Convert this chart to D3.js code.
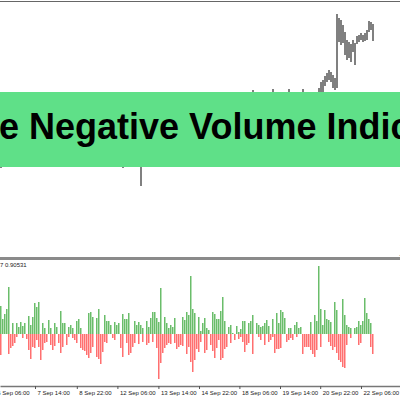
<!DOCTYPE html>
<html><head><meta charset="utf-8">
<script src="https://cdn.jsdelivr.net/npm/d3@7"></script>
<style>html,body{margin:0;padding:0;background:#fff;overflow:hidden}</style>
</head><body><svg id="c" width="400" height="400"></svg>
<script>
// ---- data ----
const volUp=[28,15,20,25,47,0,11,0,11,7,12,8,11,0,18,9,17,31,27,32,0,11,6,0,14,6,0,11,7,0,23,11,11,0,7,9,6,0,13,15,6,0,0,0,21,22,17,0,16,25,
0,0,19,13,13,9,0,12,9,11,0,20,15,15,21,0,0,13,9,12,9,6,0,13,7,16,22,22,16,12,46,0,17,11,6,9,7,16,0,0,0,17,14,22,19,58,25,21,0,17,
3,11,16,6,4,0,22,20,15,15,23,37,13,0,7,9,1,0,8,2,5,13,13,0,11,13,19,0,11,9,7,8,11,14,8,0,15,0,21,11,24,22,16,0,6,6,0,9,12,6,
7,0,0,0,0,12,0,19,13,68,25,9,24,15,14,12,0,32,24,0,0,35,19,9,7,6,0,6,7,13,9,13,36,21,15,11,0];
const volDown=[21,0,0,0,20,14,12,9,3,0,0,4,0,5,16,25,13,14,6,13,26,16,9,8,0,11,16,12,0,9,19,13,0,11,3,0,4,6,9,0,14,16,17,21,24,19,13,0,23,25,
30,18,8,9,0,0,4,6,0,0,14,23,0,9,21,19,13,9,0,10,0,8,0,11,9,0,8,0,14,45,29,19,14,11,9,10,0,9,15,13,11,12,0,20,13,28,38,26,15,18,
8,0,19,16,0,11,17,24,14,6,26,24,15,13,0,9,0,6,0,5,3,8,18,11,9,0,20,0,0,3,6,0,11,0,8,6,3,19,15,15,14,0,0,8,6,4,6,0,3,0,
0,20,13,13,13,16,20,23,16,0,13,0,0,0,8,12,16,13,19,26,28,33,34,11,0,4,0,0,0,11,9,0,0,0,0,13,20];
const priceHigh=[1.1960,1.1955,1.1958,1.1950,1.1945,1.1952,1.1948,1.1955,1.1962,1.1958,
1.1965,1.1970,1.1968,1.1975,1.1972,1.1978,1.1985,1.1980,1.1976,1.1982,
1.1988,1.1984,1.1979,1.1974,1.1977,1.1983,1.1986,1.1981,1.1975,1.1970,
1.1966,1.1972,1.1978,1.1974,1.1969,1.1963,1.1958,1.1962,1.1967,1.1971,
1.1975,1.1980,1.1984,1.1979,1.1973,1.1968,1.1964,1.1960,1.1957,1.1962,
1.1966,1.1961,1.1956,1.1952,1.1949,1.1953,1.1958,1.1963,1.1960,1.1955,
1.1950,1.1946,1.1951,1.1956,1.1960,1.1957,1.1952,1.1948,1.1953,1.1958,
1.1955,1.1948,1.1953,1.1959,1.1964,1.1969,1.1973,1.1970,1.1966,1.1972,
1.1977,1.1982,1.1979,1.1974,1.1970,1.1975,1.1980,1.1985,1.1988,1.1984,
1.1980,1.1976,1.1972,1.1977,1.1981,1.1986,1.1990,1.1987,1.1983,1.1979,
1.1975,1.1979,1.1984,1.1988,1.1992,1.1989,1.1985,1.1981,1.1986,1.1990,
1.1994,1.1991,1.1987,1.1983,1.1988,1.1992,1.1995,1.1993,1.1989,1.1985,
1.1981,1.1986,1.1990,1.1994,1.1997,1.1995,1.2010,1.1996,1.1992,1.1988,
1.1984,1.1989,1.1993,1.1996,1.1998,1.1995,1.2011,1.1997,1.1993,1.1989,
1.1986,1.1990,1.1994,1.1997,1.2011,1.1996,1.1992,1.1988,1.1984,1.1988,
1.1993,1.2011,1.1995,1.1991,1.1987,1.1990,1.2008,1.2005,1.2007,
1.2012,1.2018,1.2020,1.2024,1.2027,1.2030,1.2028,1.2025,1.2022,1.2086,1.2082,1.2080,1.2075,1.2068,1.2060,1.2058,1.2056,1.2060,1.2057,1.2064,1.2065,1.2067,1.2065,1.2067,1.2070,1.2079,1.2078,1.2076];
const priceLow=[1.1932,1.1940,1.1942,1.1936,1.1934,1.1938,1.1936,1.1942,1.1946,1.1944,
1.1950,1.1954,1.1952,1.1958,1.1960,1.1962,1.1966,1.1964,1.1960,1.1966,
1.1972,1.1968,1.1962,1.1960,1.1963,1.1968,1.1970,1.1966,1.1960,1.1956,
1.1950,1.1956,1.1962,1.1958,1.1952,1.1947,1.1944,1.1948,1.1952,1.1957,
1.1960,1.1964,1.1968,1.1962,1.1958,1.1952,1.1948,1.1944,1.1942,1.1946,
1.1950,1.1946,1.1940,1.1937,1.1935,1.1939,1.1943,1.1947,1.1944,1.1940,
1.1936,1.1932,1.1937,1.1941,1.1944,1.1941,1.1937,1.1934,1.1938,1.1942,
1.1914,1.1936,1.1940,1.1945,1.1950,1.1954,1.1958,1.1955,1.1951,1.1956,
1.1961,1.1966,1.1963,1.1959,1.1955,1.1960,1.1965,1.1969,1.1972,1.1968,
1.1964,1.1960,1.1957,1.1961,1.1966,1.1970,1.1974,1.1971,1.1967,1.1963,
1.1960,1.1964,1.1968,1.1972,1.1976,1.1973,1.1969,1.1965,1.1970,1.1974,
1.1978,1.1975,1.1971,1.1967,1.1972,1.1976,1.1979,1.1977,1.1973,1.1969,
1.1966,1.1970,1.1974,1.1978,1.1981,1.1979,1.1984,1.1980,1.1976,1.1972,
1.1969,1.1973,1.1977,1.1980,1.1982,1.1979,1.1985,1.1981,1.1977,1.1973,
1.1970,1.1974,1.1978,1.1981,1.1984,1.1980,1.1976,1.1972,1.1968,1.1972,
1.1977,1.1984,1.1979,1.1975,1.1971,1.1974,1.1985,1.1984,1.1986,
1.2000,1.2005,1.2008,1.2014,1.2018,1.2020,1.2018,1.2012,1.2010,1.2012,1.2058,1.2055,1.2057,1.2045,1.2040,1.2042,1.2038,1.2048,1.2035,1.2056,1.2058,1.2060,1.2058,1.2059,1.2060,1.2068,1.2070,1.2059];
const tickBars=[-2.6,17.5,38.4,58.7,79.2,99.5,119.7,140,160.1,180.5];
const tickLabels=["6 Sep 06:00","7 Sep 14:00","8 Sep 22:00","12 Sep 06:00","13 Sep 14:00","14 Sep 22:00","18 Sep 06:00","19 Sep 14:00","20 Sep 22:00","22 Sep 06:00"];
const titleText="e Negative Volume Indic";
const indicatorLabel="7 0.90531";
const watermarkText="ودآموز";

// ---- drawing ----
const svg=d3.select("#c");
const x=d3.scaleLinear().domain([0,200]).range([0,400]);
const yP=d3.scaleLinear().domain([1.1850,1.2100]).range([250,0]);
const yV=d3.scaleLinear().domain([-48,70]).range([382,264]);
const idx=d3.range(volUp.length);

// top border
svg.append("line").attr("x1",0).attr("x2",400).attr("y1",1.5).attr("y2",1.5).attr("stroke","#666").attr("stroke-width",1);

// price bars
svg.append("g").selectAll("line").data(idx).join("line")
  .attr("x1",i=>x(i)+1).attr("x2",i=>x(i)+1)
  .attr("y1",i=>yP(priceHigh[i])).attr("y2",i=>yP(priceLow[i]))
  .attr("stroke","#7a7a7a").attr("stroke-width",1.9);

// banner
svg.append("rect").attr("x",0).attr("y",92).attr("width",400).attr("height",75).attr("fill","#5fe088");
svg.append("text").attr("x",-1).attr("y",139).text(titleText)
  .attr("font-family","'Liberation Sans',Arial,sans-serif").attr("font-weight","bold")
  .attr("font-size",36).attr("fill","#000");

// watermark
svg.append("text").attr("x",400).attr("y",253).attr("text-anchor","end").attr("direction","rtl")
  .text(watermarkText).attr("font-family","'DejaVu Sans',sans-serif").attr("font-size",11).attr("fill","#a8a8a8");

// separator
svg.append("rect").attr("x",0).attr("y",257).attr("width",400).attr("height",3).attr("fill","#8a8a8a");

// indicator label
svg.append("text").attr("x",0).attr("y",267).text(indicatorLabel)
  .attr("font-family","'Liberation Sans',Arial,sans-serif").attr("font-size",6).attr("fill","#222");

// volume bars
svg.append("g").selectAll("rect").data(idx.filter(i=>volUp[i]>0)).join("rect")
  .attr("x",i=>x(i)).attr("width",1.5)
  .attr("y",i=>yV(volUp[i])).attr("height",i=>yV(0)-yV(volUp[i]))
  .attr("fill","#6abd6a");
svg.append("g").selectAll("rect").data(idx.filter(i=>volDown[i]>0)).join("rect")
  .attr("x",i=>x(i)).attr("width",1.5)
  .attr("y",yV(0)).attr("height",i=>yV(-volDown[i])-yV(0))
  .attr("fill","#ff6f6f");

// time axis
const ax=d3.axisBottom(x).tickValues(tickBars).tickFormat((d,k)=>tickLabels[k]).tickSize(3).tickSizeOuter(0);
const g=svg.append("g").attr("transform","translate(0,386)").call(ax);
g.select(".domain").attr("stroke","#777").attr("stroke-width",1.3);
g.selectAll(".tick line").attr("stroke","#555");
g.selectAll(".tick text").attr("text-anchor","start").attr("x",2).attr("y",5).attr("dy","0.71em")
  .attr("font-family","'Liberation Sans',Arial,sans-serif").attr("font-size",6).attr("fill","#222");
</script></body></html>
